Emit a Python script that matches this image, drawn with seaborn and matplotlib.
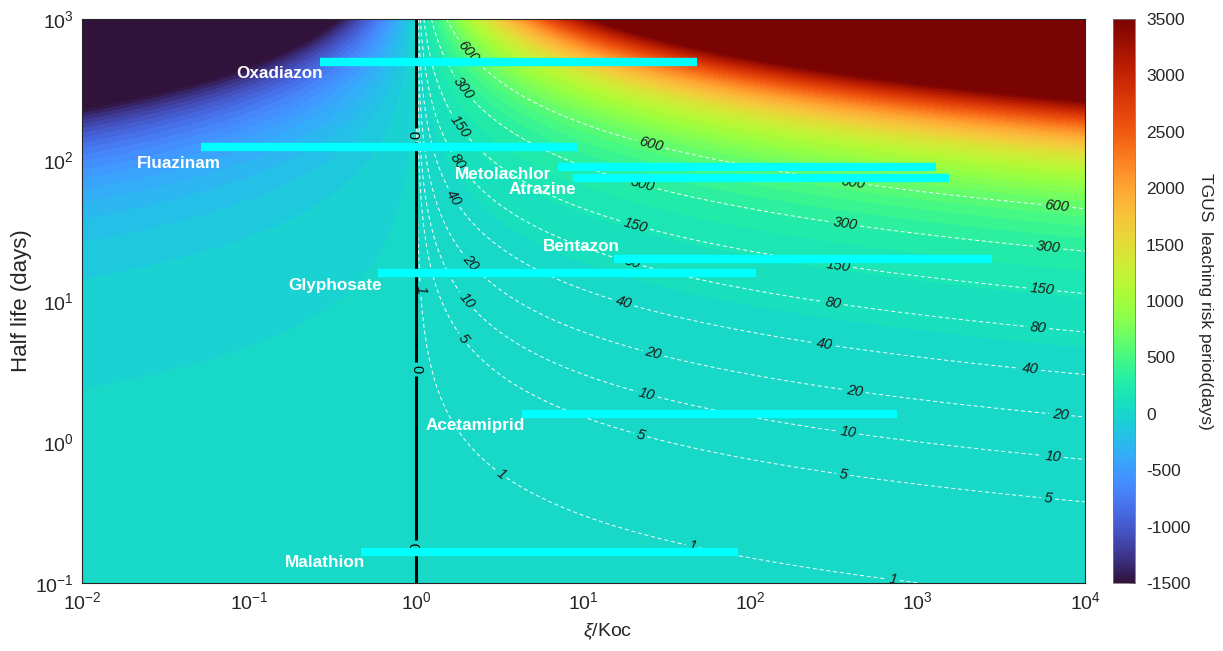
import matplotlib

matplotlib.use("Agg")
import matplotlib.pyplot as plt
import numpy as np
import seaborn as sns
from matplotlib.cm import ScalarMappable
from matplotlib.colors import Normalize

# pesticide bars: half-life (days) and xi/Koc range
PESTICIDES = ["Oxadiazon", "Fluazinam", "Metolachlor", "Atrazine",
              "Bentazon", "Glyphosate", "Acetamiprid", "Malathion"]
HALF_LIFE = [495, 123, 89, 74.5, 19.7, 15.9, 1.58, 0.166]
RATIO_LOW = [0.265, 0.0514, 7.0, 8.6, 15.2, 0.59, 4.27, 0.467]
RATIO_HIGH = [47.7, 9.1, 1283, 1528, 2763, 107, 750, 84]
NAME_X = [0.153, 0.0381, 3.30, 5.65, 9.66, 0.327, 2.24, 0.284]
NAME_Y = [414, 95, 78.3, 61.3, 24.5, 12.8, 1.3, 0.139]

# dashed iso-lines of the risk period and where their labels sit
CONTOUR_LEVELS = [1, 5, 10, 20, 40, 80, 150, 300, 600]
LABEL_SPOTS = {
    600: [(2.01, 583), (25, 124), (409, 66.5), (6790, 45.7)],
    300: [(1.87, 314), (22.4, 64), (366, 34), (6000, 23)],
    150: [(1.77, 169), (20.3, 33.5), (333, 17.5), (5520, 11.6)],
    80: [(1.70, 95), (19.5, 18.6), (310, 9.4), (5220, 6.2)],
    40: [(1.59, 52), (17.2, 9.4), (277, 4.72), (4680, 3.19)],
    20: [(2.09, 18.6), (26, 4.14), (417, 2.23), (7080, 1.5)],
    10: [(1.95, 9.8), (23.9, 2.15), (382, 1.12), (6430, 0.77)],
    5: [(1.87, 5.3), (21.8, 1.085), (355, 0.565), (6000, 0.387)],
    1: [(1.05, 12), (3.17, 0.583), (44.6, 0.18), (710, 0.108)],
}
ZERO_SPOTS = [(1.0, 150), (1.0, 3.3), (1.0, 0.18)]

CBAR_TICKS = [-1500, -1000, -500, 0, 500, 1000, 1500, 2000, 2500, 3000, 3500]
VMIN, VMAX = -1500, 3500
N_BANDS = 64


def risk_period(ratio, half_life):
    # number of half-lives to decay from xi down to Koc, times the half-life
    return half_life * np.log2(ratio)


def main() -> None:
    sns.set_theme(style="ticks")
    plt.rcParams["font.family"] = ["Liberation Sans", "DejaVu Sans"]
    plt.rcParams["mathtext.fontset"] = "custom"
    plt.rcParams["mathtext.rm"] = "Liberation Sans"
    plt.rcParams["mathtext.it"] = "Liberation Sans:italic"
    plt.rcParams["axes.unicode_minus"] = False
    plt.rcParams["lines.dashed_pattern"] = [4.0, 3.0]
    text_color = "#262626"

    fig = plt.figure(figsize=(12.23, 6.51), dpi=100)
    ax = fig.add_axes([82 / 1223, 68 / 651, 1003 / 1223, 564 / 651])
    cax = fig.add_axes([1113 / 1223, 68 / 651, 22 / 1223, 564 / 651])

    ratio = np.logspace(-2, 4, 900)
    half_life = np.logspace(-1, 3, 700)
    R, T = np.meshgrid(ratio, half_life)
    Z = risk_period(R, T)

    cmap = matplotlib.colormaps["turbo"]
    bands = np.linspace(VMIN, VMAX, N_BANDS + 1)
    ax.contourf(R, T, Z, levels=bands, cmap=cmap, vmin=VMIN, vmax=VMAX,
                extend="both")
    ax.set_xscale("log")
    ax.set_yscale("log")
    ax.set_xlim(1e-2, 1e4)
    ax.set_ylim(1e-1, 1e3)

    for level in CONTOUR_LEVELS:
        cs = ax.contour(R, T, Z, levels=[level], colors="white",
                        linewidths=0.7, linestyles="--")
        texts = ax.clabel(cs, fmt="%g", fontsize=10.5, colors="#1a1a1a",
                          inline=True, inline_spacing=3,
                          manual=LABEL_SPOTS[level])
        for t in texts:
            t.set_fontstyle("italic")

    zero = ax.contour(R, T, Z, levels=[0], colors="black", linewidths=2.2)
    ax.clabel(zero, fmt="%g", fontsize=10.5, colors="black", inline=True,
              inline_spacing=3, manual=ZERO_SPOTS)

    ax.hlines(HALF_LIFE, RATIO_LOW, RATIO_HIGH, colors="#00ffff",
              linewidth=6, zorder=5)
    for name, x, y in zip(PESTICIDES, NAME_X, NAME_Y):
        ax.text(x, y, name, color="white", fontsize=12.3, fontweight="bold",
                ha="center", va="center", zorder=6)

    ax.set_xlabel(r"$\xi$/Koc", fontsize=14, color=text_color, va="top")
    ax.xaxis.set_label_coords(0.524, -0.068)
    ax.set_ylabel("Half life (days)", fontsize=16, color=text_color, labelpad=2)
    ax.tick_params(which="both", direction="in", top=True, right=True,
                   colors=text_color, labelsize=14, width=0.6)
    ax.tick_params(which="major", length=7, pad=6)
    ax.tick_params(which="minor", length=3.5)
    for spine in ax.spines.values():
        spine.set_linewidth(0.8)
        spine.set_color(text_color)

    mappable = ScalarMappable(norm=Normalize(VMIN, VMAX), cmap=cmap)
    cbar = fig.colorbar(mappable, cax=cax, ticks=CBAR_TICKS)
    cbar.outline.set_linewidth(0.6)
    cbar.outline.set_edgecolor("#777777")
    cax.tick_params(direction="in", length=4, width=0.6, labelsize=12.5,
                    colors=text_color, pad=8)
    cbar.set_label("TGUS  leaching risk period(days)", rotation=270,
                   fontsize=12.5, color=text_color, labelpad=16)

    fig.savefig("out.png", dpi=100)
    plt.close(fig)


if __name__ == "__main__":
    main()
